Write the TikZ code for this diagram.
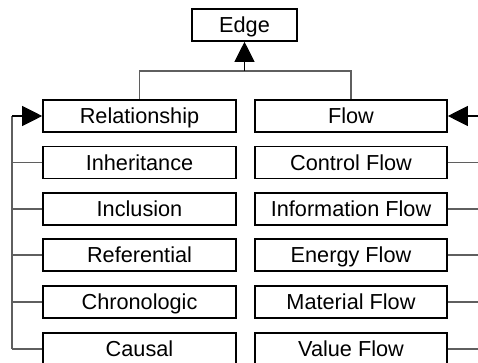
\documentclass[tikz,border=0pt]{standalone}
\usepackage{fontspec}
\setmainfont{Liberation Sans}
\usetikzlibrary{arrows.meta}
\definecolor{wire}{RGB}{95,95,95}
\begin{document}
\begin{tikzpicture}[x=1pt,y=-1pt,
  box/.style={draw=black,line width=1.6pt,inner sep=0pt,
    minimum height=32pt,text height=15.5pt,text depth=0pt,
    font=\fontsize{21.7}{24}\selectfont},
  leftbox/.style={box,minimum width=193pt},
  rightbox/.style={box,minimum width=192pt},
  wireline/.style={draw=wire,line width=1.1pt},
  tip/.style={draw=black,-{Triangle[length=20pt,width=20pt,fill=black]}}]
\useasboundingbox (0,0) rectangle (478,363);
\clip (0,0) rectangle (478,363);
\fill[white] (0,0) rectangle (478,363);

% root
\node[box,minimum width=105pt] (edge) at (244.5,25) {Edge};

% left column
\node[leftbox] (rel)   at (139.5,116)   {Relationship};
\node[leftbox] (inh)   at (139.5,162.5) {Inheritance};
\node[leftbox] (incl)  at (139.5,209)   {Inclusion};
\node[leftbox] (ref)   at (139.5,255)   {Referential};
\node[leftbox] (chron) at (139.5,302)   {Chronologic};
\node[leftbox] (caus)  at (139.5,349)   {Causal};

% right column
\node[rightbox] (flow) at (351,116)   {Flow};
\node[rightbox] (cf)   at (351,162.5) {Control Flow};
\node[rightbox] (inf)  at (351,209)   {Information Flow};
\node[rightbox] (enf)  at (351,255)   {Energy Flow};
\node[rightbox] (mf)   at (351,302)   {Material Flow};
\node[rightbox] (vf)   at (351,349)   {Value Flow};

% bus positions
\coordinate (split) at (244.5,71);
\coordinate (leftbus) at (12,0);
\coordinate (rightbus) at (490,0);

% generalisation to Edge
\draw[wireline] (rel.north) |- (split) -| (flow.north);
\draw[wireline,tip] (edge.south |- split) -- (edge.south);

% left bus
\draw[wireline] (rel.west -| leftbus) -- (caus.west -| leftbus);
\draw[wireline,tip] (rel.west -| leftbus) -- (rel.west);
\foreach \n in {inh,incl,ref,chron,caus}
  \draw[wireline] (\n.west -| leftbus) -- (\n.west);

% right bus
\draw[wireline,tip] (flow.east -| rightbus) -- (flow.east);
\foreach \n in {cf,inf,enf,mf,vf}
  \draw[wireline] (\n.east) -- (\n.east -| rightbus);
\end{tikzpicture}
\end{document}
